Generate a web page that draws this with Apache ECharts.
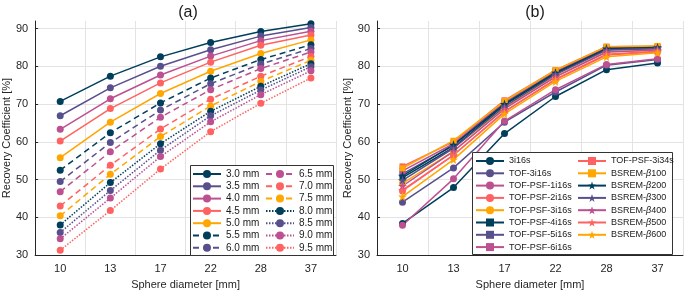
<!DOCTYPE html>
<html>
<head>
<meta charset="utf-8">
<script src="https://cdn.jsdelivr.net/npm/echarts@6/dist/echarts.min.js"></script>
<style>
  html, body { margin: 0; padding: 0; background: #fff; }
  #chart { width: 685px; height: 295px; }
</style>
</head>
<body>
<div id="chart"></div>
<script>
// 横轴：球直径
const diameters = ['10', '13', '17', '22', '28', '37'];

// (a) 不同 FWHM 的恢复系数
const fwhmNames = ['3.0 mm', '3.5 mm', '4.0 mm', '4.5 mm', '5.0 mm', '5.5 mm', '6.0 mm',
  '6.5 mm', '7.0 mm', '7.5 mm', '8.0 mm', '8.5 mm', '9.0 mm', '9.5 mm'];
const rc30 = [70.7, 77.4, 82.5, 86.3, 89.2, 91.3];
const rc35 = [66.9, 74.3, 80.0, 84.4, 88.0, 90.3];
const rc40 = [63.3, 71.4, 77.7, 82.7, 86.8, 89.3];
const rc45 = [60.2, 68.8, 75.6, 81.1, 85.6, 88.3];
const rc50 = [55.8, 65.2, 72.8, 78.7, 83.4, 87.0];
const rc55 = [52.5, 62.4, 70.3, 76.9, 81.8, 85.7];
const rc60 = [49.5, 59.8, 68.4, 75.4, 80.6, 84.7];
const rc65 = [46.8, 57.4, 66.5, 73.8, 79.4, 83.8];
const rc70 = [43.0, 53.8, 63.4, 71.3, 77.4, 82.6];
const rc75 = [40.4, 51.4, 61.4, 69.5, 76.0, 81.6];
const rc80 = [38.0, 49.2, 59.5, 68.1, 74.7, 80.7];
const rc85 = [36.0, 47.1, 57.8, 66.9, 73.7, 79.9];
const rc90 = [34.3, 45.1, 56.1, 65.3, 72.5, 78.8];
const rc95 = [31.3, 41.8, 52.8, 62.7, 70.2, 76.9];

// (b) 不同重建方法
const reconNames = ['3i16s', 'TOF-3i16s', 'TOF-PSF-1i16s', 'TOF-PSF-2i16s', 'TOF-PSF-3i16s',
  'TOF-PSF-4i16s', 'TOF-PSF-5i16s', 'TOF-PSF-6i16s', 'TOF-PSF-3i34s', 'BSREM-β100',
  'BSREM-β200', 'BSREM-β300', 'BSREM-β400', 'BSREM-β500', 'BSREM-β600'];
const osem3 = [38.4, 47.9, 62.2, 72.0, 79.1, 80.9];
const tof3 = [44.0, 53.1, 65.2, 73.2, 80.3, 81.8];
const psf1 = [37.9, 50.2, 65.5, 73.8, 80.5, 82.0];
const psf2 = [47.0, 56.5, 68.0, 76.5, 83.0, 83.8];
const psf3 = [49.0, 57.5, 69.0, 77.3, 83.8, 84.3];
const psf4 = [50.5, 58.5, 69.8, 78.0, 84.4, 84.7];
const psf5 = [51.5, 59.0, 70.3, 78.4, 84.8, 85.0];
const psf6 = [52.3, 59.5, 70.6, 78.7, 85.0, 85.1];
const psf3i34 = [53.5, 60.0, 71.0, 79.0, 85.2, 85.3];
const bsrem100 = [53.0, 60.3, 70.8, 79.0, 85.2, 85.4];
const bsrem200 = [51.0, 59.2, 70.0, 78.3, 84.7, 85.0];
const bsrem300 = [49.8, 58.3, 69.3, 77.8, 84.3, 84.7];
const bsrem400 = [48.3, 57.5, 68.7, 77.2, 83.8, 84.3];
const bsrem500 = [47.2, 56.5, 68.0, 76.6, 83.2, 84.0];
const bsrem600 = [45.5, 55.3, 67.4, 76.0, 82.5, 83.6];

const palette = ['#003f5c', '#58508d', '#bc5090', '#ff6361', '#ffa600'];
const starPath = 'path://M0,-10L2.35,-3.24L9.51,-3.09L3.8,1.24L5.88,8.09L0,4L-5.88,8.09L-3.8,1.24L-9.51,-3.09L-2.35,-3.24Z';
const font = "'Liberation Sans', Arial, sans-serif";

const leftData = [rc30, rc35, rc40, rc45, rc50, rc55, rc60, rc65, rc70, rc75, rc80, rc85, rc90, rc95];
const rightData = [osem3, tof3, psf1, psf2, psf3, psf4, psf5, psf6, psf3i34, bsrem100,
  bsrem200, bsrem300, bsrem400, bsrem500, bsrem600];

const series = [];
leftData.forEach((d, i) => {
  const c = palette[i % 5];
  const lineType = i < 5 ? 'solid' : (i < 10 ? [6, 4] : [1.5, 1.5]); // 实线/虚线/点线
  series.push({
    name: fwhmNames[i],
    type: 'line',
    xAxisIndex: 0,
    yAxisIndex: 0,
    data: d,
    symbol: 'circle',
    symbolSize: 7,
    lineStyle: { color: c, width: 1.5, type: lineType },
    itemStyle: { color: c },
    emphasis: { disabled: true },
  });
});
rightData.forEach((d, i) => {
  const c = palette[i % 5];
  let sym = 'circle', size = 7;
  if (i >= 5 && i < 10) { sym = 'rect'; size = 6; }
  if (i >= 10) { sym = starPath; size = 9; }
  series.push({
    name: reconNames[i],
    type: 'line',
    xAxisIndex: 1,
    yAxisIndex: 1,
    data: d,
    symbol: sym,
    symbolSize: size,
    lineStyle: { color: c, width: 1.5 },
    itemStyle: { color: c },
    emphasis: { disabled: true },
  });
});

const axisLbl = { color: '#262626', fontSize: 11, fontFamily: font };
const makeX = (gi) => ({
  type: 'category',
  gridIndex: gi,
  data: diameters,
  boundaryGap: true,
  name: 'Sphere diameter [mm]',
  nameLocation: 'middle',
  nameGap: 20,
  nameTextStyle: { color: '#262626', fontSize: 11, fontFamily: font },
  axisLine: { lineStyle: { color: '#262626', width: 1 } },
  axisTick: { inside: true, length: 3, alignWithLabel: true, lineStyle: { color: '#262626' } },
  axisLabel: Object.assign({ margin: 8 }, axisLbl),
  splitLine: { show: true, lineStyle: { color: '#e3e3e3', width: 1 } },
});
const makeY = (gi) => ({
  type: 'value',
  gridIndex: gi,
  min: 30,
  max: 92,
  interval: 10,
  name: 'Recovery Coefficient [%]',
  nameLocation: 'middle',
  nameGap: 20,
  nameTextStyle: { color: '#262626', fontSize: 11, fontFamily: font },
  axisLine: { show: true, lineStyle: { color: '#262626', width: 1 } },
  axisTick: { show: true, inside: true, length: 3, lineStyle: { color: '#262626' } },
  axisLabel: Object.assign({ margin: 7, showMaxLabel: false }, axisLbl),
  splitLine: { show: true, showMaxLine: false, lineStyle: { color: '#e3e3e3', width: 1 } },
});

const makeLegend = (fs, extra) => Object.assign({
  orient: 'vertical',
  itemWidth: 28,
  itemHeight: 10,
  itemGap: 2.3,
  padding: 0,
  selectedMode: false,
  z: 60,
  textStyle: {
    color: '#1a1a1a', fontSize: fs, lineHeight: 10, fontFamily: font,
    rich: { b: { fontStyle: 'italic', fontSize: fs, lineHeight: 10, fontFamily: font, color: '#1a1a1a' } },
  },
  formatter: (n) => n.replace('β', '{b|β}'),
}, extra);

const option = {
  animation: false,
  backgroundColor: '#fff',
  title: [
    { text: '(a)', left: 183, top: 0, textAlign: 'center',
      textStyle: { fontSize: 16, fontWeight: 'normal', color: '#1a1a1a', fontFamily: font } },
    { text: '(b)', left: 530, top: 0, textAlign: 'center',
      textStyle: { fontSize: 16, fontWeight: 'normal', color: '#1a1a1a', fontFamily: font } },
  ],
  grid: [
    { left: 30, top: 21, width: 306, height: 242 },
    { left: 377, top: 21, width: 306, height: 242 },
  ],
  xAxis: [makeX(0), makeX(1)],
  yAxis: [makeY(0), makeY(1)],
  // 图例外框
  graphic: [
    { type: 'rect', z: 50, shape: { x: 190.5, y: 165.5, width: 143, height: 90 },
      style: { fill: '#fff', stroke: '#333', lineWidth: 1 } },
    { type: 'rect', z: 50, shape: { x: 472.5, y: 152.5, width: 200, height: 102 },
      style: { fill: '#fff', stroke: '#333', lineWidth: 1 } },
  ],
  legend: [
    makeLegend(10, { left: 192, top: 169, data: fwhmNames.slice(0, 7) }),
    makeLegend(10, { left: 265, top: 169, data: fwhmNames.slice(7) }),
    makeLegend(9, { left: 475, top: 156, data: reconNames.slice(0, 8) }),
    makeLegend(9, { left: 577, top: 156, data: reconNames.slice(8) }),
  ],
  series: series,
};

const myChart = echarts.init(document.getElementById('chart'));
myChart.setOption(option);
</script>
</body>
</html>
